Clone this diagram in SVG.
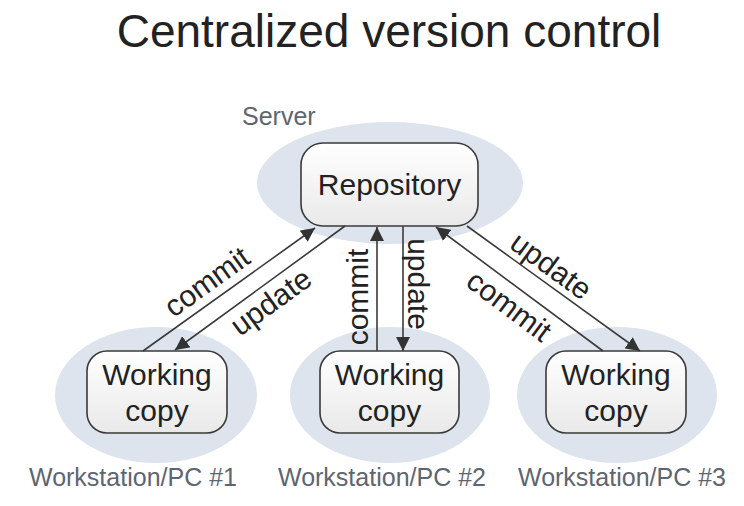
<svg xmlns="http://www.w3.org/2000/svg" width="744" height="506" viewBox="0 0 744 506">
<defs>
  <linearGradient id="boxg" x1="0" y1="0" x2="0" y2="1">
    <stop offset="0" stop-color="#ffffff"/>
    <stop offset="1" stop-color="#e9e9e9"/>
  </linearGradient>
  <marker id="arr" markerUnits="userSpaceOnUse" markerWidth="15" markerHeight="14" refX="14" refY="7" orient="auto">
    <path d="M0,0 L14,7 L0,14 z" fill="#333"/>
  </marker>
  <style>
    .halo { fill: #dde4ed; }
    .box { fill: url(#boxg); stroke: #3a3a3a; stroke-width: 1.6; }
    .t { font-family: "Liberation Sans", Arial, sans-serif; fill: #222; }
    .big { font-size: 30px; text-anchor: middle; }
    .lbl { font-family: "Liberation Sans", Arial, sans-serif; fill: #5d6670; font-size: 25px; }
    .conn line { stroke: #3a3a3a; stroke-width: 1.6; marker-end: url(#arr); }
    .cl { font-family: "Liberation Sans", Arial, sans-serif; fill: #222; font-size: 30px; text-anchor: middle; }
  </style>
</defs>
<rect width="744" height="506" fill="#ffffff"/>
<text class="t" x="389" y="47" font-size="46" text-anchor="middle">Centralized version control</text>

<g id="server">
  <ellipse class="halo" cx="390" cy="183" rx="133" ry="61"/>
  <text class="lbl" x="242" y="125" font-size="24">Server</text>
</g>
<g id="ws1">
  <ellipse class="halo" cx="156" cy="395" rx="101" ry="68"/>
  <text class="lbl" x="29" y="486">Workstation/PC #1</text>
</g>
<g id="ws2">
  <ellipse class="halo" cx="390" cy="395" rx="100" ry="68"/>
  <text class="lbl" x="278" y="486">Workstation/PC #2</text>
</g>
<g id="ws3">
  <ellipse class="halo" cx="617" cy="395" rx="100" ry="68"/>
  <text class="lbl" x="518" y="486">Workstation/PC #3</text>
</g>

<g id="repository">
  <rect class="box" x="301" y="143" width="177" height="83" rx="22"/>
  <text class="t big" x="389.5" y="195">Repository</text>
</g>
<g id="wc1">
  <rect class="box" x="87" y="351" width="140" height="82" rx="20"/>
  <text class="t big" x="157" y="385">Working</text>
  <text class="t big" x="157" y="421">copy</text>
</g>
<g id="wc2">
  <rect class="box" x="320" y="351" width="139" height="82" rx="20"/>
  <text class="t big" x="389.5" y="385">Working</text>
  <text class="t big" x="389.5" y="421">copy</text>
</g>
<g id="wc3">
  <rect class="box" x="546" y="351" width="140" height="82" rx="20"/>
  <text class="t big" x="616" y="385">Working</text>
  <text class="t big" x="616" y="421">copy</text>
</g>

<g id="connectors" class="conn">
  <line x1="143" y1="351" x2="315" y2="228"/>
  <line x1="345" y1="226" x2="175" y2="350"/>
  <line x1="377" y1="351" x2="377" y2="227"/>
  <line x1="403" y1="226" x2="403" y2="351"/>
  <line x1="603" y1="351" x2="436" y2="227"/>
  <line x1="467" y1="226" x2="640" y2="351"/>
  <text class="cl" transform="translate(207,282) rotate(-35.6)" y="10">commit</text>
  <text class="cl" transform="translate(271,302) rotate(-36)" y="10">update</text>
  <text class="cl" transform="translate(358,297) rotate(-90)" y="10">commit</text>
  <text class="cl" transform="translate(418,284) rotate(90)" y="10">update</text>
  <text class="cl" transform="translate(509,306) rotate(36.8)" y="10">commit</text>
  <text class="cl" transform="translate(551,266) rotate(36.1)" y="10">update</text>
</g>
</svg>
